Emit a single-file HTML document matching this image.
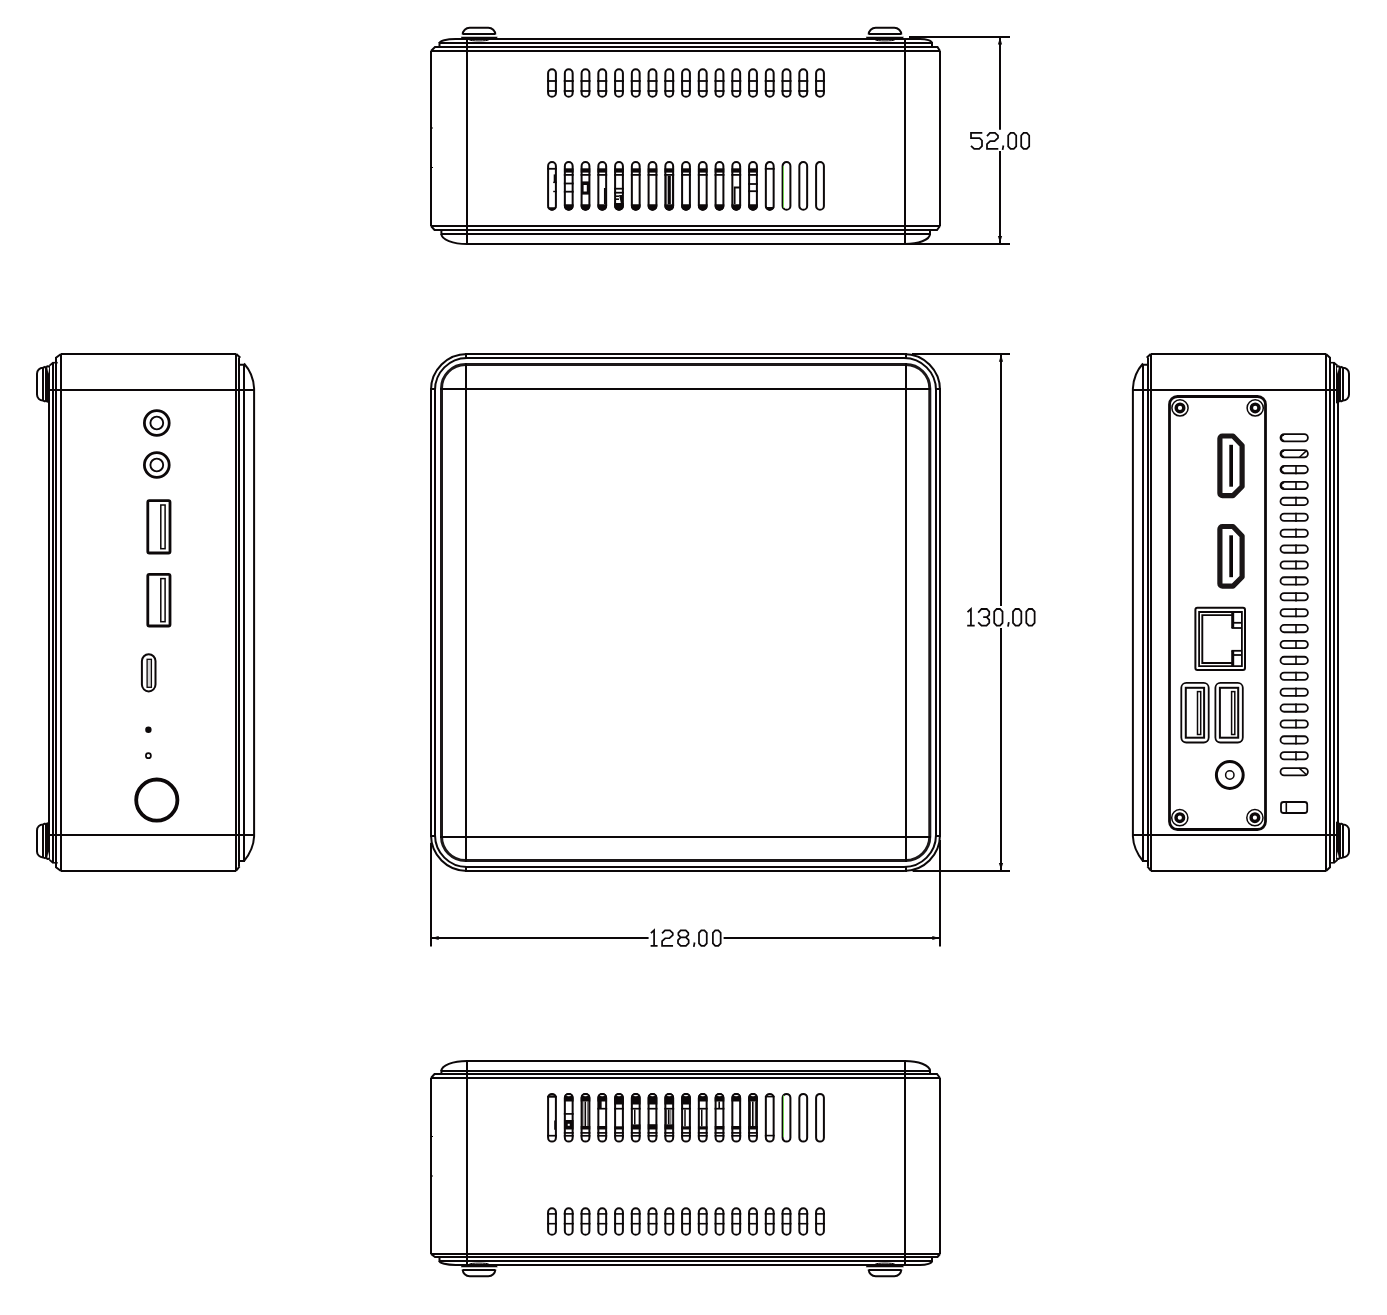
<!DOCTYPE html>
<html><head><meta charset="utf-8"><title>Mini PC dimensions</title>
<style>html,body{margin:0;padding:0;background:#fff;}body{width:1387px;height:1315px;overflow:hidden;font-family:"Liberation Sans",sans-serif;}svg{display:block;}</style>
</head><body>
<svg width="1387" height="1315" viewBox="0 0 1387 1315">
<rect width="1387" height="1315" fill="#fff"/>
<g fill="none" stroke="#0c0809" stroke-width="2" stroke-linecap="butt" stroke-linejoin="miter">
<g>
<line x1="431" y1="51" x2="431" y2="226"/>
<line x1="940" y1="51" x2="940" y2="226"/>
<line x1="467" y1="39" x2="467" y2="244"/>
<line x1="905" y1="39" x2="905" y2="244"/>
<path d="M431,51 H940"/>
<path d="M431,51 L435,47 H937.5 L940,51"/>
<path d="M439.5,47 V43 H932 V47"/>
<path d="M439.5,43 A16,4 0 0 1 455.5,39 H920 A12,4 0 0 1 932,43"/>
<path d="M431,226 H940"/>
<path d="M431,226 L434.5,230 H937 L940,226"/>
<path d="M441.4,230 V234 H930 V230"/>
<path d="M441.4,234 A25.6,10 0 0 0 467,244 H906"/>
<path d="M930,234 A25,10 0 0 1 904,244"/>
<line x1="431" y1="128" x2="433" y2="128" stroke-width="1.2"/>
<line x1="431" y1="167.5" x2="433" y2="167.5" stroke-width="1.2"/>
<path d="M462.7,34.6 A7,6.8 0 0 1 469.7,27.8 H488.3 A7,6.8 0 0 1 495.3,34.6"/>
<line x1="462.7" y1="33.9" x2="495.3" y2="33.9"/>
<path d="M460.8,36.8 H497.7 L496.2,39.5 H462.3 Z" fill="#0c0809" stroke="none"/>
<ellipse cx="479" cy="39.9" rx="9.5" ry="1.0" stroke-width="1"/>
<path d="M868.7,34.6 A7,6.8 0 0 1 875.7,27.8 H894.3 A7,6.8 0 0 1 901.3,34.6"/>
<line x1="868.7" y1="33.9" x2="901.3" y2="33.9"/>
<path d="M865.8,36.8 H903.8 L902.3,39.5 H867.3 Z" fill="#0c0809" stroke="none"/>
<ellipse cx="885" cy="39.9" rx="9.5" ry="1.0" stroke-width="1"/>
</g>
<path d="M548.1,73.1 A3.9,3.9 0 0 1 555.9,73.1 V92.9 A3.9,3.9 0 0 1 548.1,92.9 Z"/>
<line x1="547" y1="81" x2="557" y2="81" stroke-width="1.8"/>
<line x1="547" y1="91" x2="557" y2="91" stroke-width="1.8"/>
<path d="M564.85,73.1 A3.9,3.9 0 0 1 572.65,73.1 V92.9 A3.9,3.9 0 0 1 564.85,92.9 Z"/>
<line x1="563.75" y1="81" x2="573.75" y2="81" stroke-width="1.8"/>
<line x1="563.75" y1="91" x2="573.75" y2="91" stroke-width="1.8"/>
<path d="M581.6,73.1 A3.9,3.9 0 0 1 589.4,73.1 V92.9 A3.9,3.9 0 0 1 581.6,92.9 Z"/>
<line x1="580.5" y1="81" x2="590.5" y2="81" stroke-width="1.8"/>
<line x1="580.5" y1="91" x2="590.5" y2="91" stroke-width="1.8"/>
<path d="M598.35,73.1 A3.9,3.9 0 0 1 606.15,73.1 V92.9 A3.9,3.9 0 0 1 598.35,92.9 Z"/>
<line x1="597.25" y1="81" x2="607.25" y2="81" stroke-width="1.8"/>
<line x1="597.25" y1="91" x2="607.25" y2="91" stroke-width="1.8"/>
<path d="M615.1,73.1 A3.9,3.9 0 0 1 622.9,73.1 V92.9 A3.9,3.9 0 0 1 615.1,92.9 Z"/>
<line x1="614" y1="81" x2="624" y2="81" stroke-width="1.8"/>
<line x1="614" y1="91" x2="624" y2="91" stroke-width="1.8"/>
<path d="M631.85,73.1 A3.9,3.9 0 0 1 639.65,73.1 V92.9 A3.9,3.9 0 0 1 631.85,92.9 Z"/>
<line x1="630.75" y1="81" x2="640.75" y2="81" stroke-width="1.8"/>
<line x1="630.75" y1="91" x2="640.75" y2="91" stroke-width="1.8"/>
<path d="M648.6,73.1 A3.9,3.9 0 0 1 656.4,73.1 V92.9 A3.9,3.9 0 0 1 648.6,92.9 Z"/>
<line x1="647.5" y1="81" x2="657.5" y2="81" stroke-width="1.8"/>
<line x1="647.5" y1="91" x2="657.5" y2="91" stroke-width="1.8"/>
<path d="M665.35,73.1 A3.9,3.9 0 0 1 673.15,73.1 V92.9 A3.9,3.9 0 0 1 665.35,92.9 Z"/>
<line x1="664.25" y1="81" x2="674.25" y2="81" stroke-width="1.8"/>
<line x1="664.25" y1="91" x2="674.25" y2="91" stroke-width="1.8"/>
<path d="M682.1,73.1 A3.9,3.9 0 0 1 689.9,73.1 V92.9 A3.9,3.9 0 0 1 682.1,92.9 Z"/>
<line x1="681" y1="81" x2="691" y2="81" stroke-width="1.8"/>
<line x1="681" y1="91" x2="691" y2="91" stroke-width="1.8"/>
<path d="M698.85,73.1 A3.9,3.9 0 0 1 706.65,73.1 V92.9 A3.9,3.9 0 0 1 698.85,92.9 Z"/>
<line x1="697.75" y1="81" x2="707.75" y2="81" stroke-width="1.8"/>
<line x1="697.75" y1="91" x2="707.75" y2="91" stroke-width="1.8"/>
<path d="M715.6,73.1 A3.9,3.9 0 0 1 723.4,73.1 V92.9 A3.9,3.9 0 0 1 715.6,92.9 Z"/>
<line x1="714.5" y1="81" x2="724.5" y2="81" stroke-width="1.8"/>
<line x1="714.5" y1="91" x2="724.5" y2="91" stroke-width="1.8"/>
<path d="M732.35,73.1 A3.9,3.9 0 0 1 740.15,73.1 V92.9 A3.9,3.9 0 0 1 732.35,92.9 Z"/>
<line x1="731.25" y1="81" x2="741.25" y2="81" stroke-width="1.8"/>
<line x1="731.25" y1="91" x2="741.25" y2="91" stroke-width="1.8"/>
<path d="M749.1,73.1 A3.9,3.9 0 0 1 756.9,73.1 V92.9 A3.9,3.9 0 0 1 749.1,92.9 Z"/>
<line x1="748" y1="81" x2="758" y2="81" stroke-width="1.8"/>
<line x1="748" y1="91" x2="758" y2="91" stroke-width="1.8"/>
<path d="M765.85,73.1 A3.9,3.9 0 0 1 773.65,73.1 V92.9 A3.9,3.9 0 0 1 765.85,92.9 Z"/>
<line x1="764.75" y1="81" x2="774.75" y2="81" stroke-width="1.8"/>
<line x1="764.75" y1="91" x2="774.75" y2="91" stroke-width="1.8"/>
<path d="M782.6,73.1 A3.9,3.9 0 0 1 790.4,73.1 V92.9 A3.9,3.9 0 0 1 782.6,92.9 Z"/>
<line x1="781.5" y1="81" x2="791.5" y2="81" stroke-width="1.8"/>
<line x1="781.5" y1="91" x2="791.5" y2="91" stroke-width="1.8"/>
<path d="M799.35,73.1 A3.9,3.9 0 0 1 807.15,73.1 V92.9 A3.9,3.9 0 0 1 799.35,92.9 Z"/>
<line x1="798.25" y1="81" x2="808.25" y2="81" stroke-width="1.8"/>
<line x1="798.25" y1="91" x2="808.25" y2="91" stroke-width="1.8"/>
<path d="M816.1,73.1 A3.9,3.9 0 0 1 823.9,73.1 V92.9 A3.9,3.9 0 0 1 816.1,92.9 Z"/>
<line x1="815" y1="81" x2="825" y2="81" stroke-width="1.8"/>
<line x1="815" y1="91" x2="825" y2="91" stroke-width="1.8"/>
<path d="M548.1,166 A3.9,3.9 0 0 1 555.9,166 V205.9 A3.9,3.9 0 0 1 548.1,205.9 Z"/>
<line x1="547.1" y1="168.8" x2="556.9" y2="168.8" stroke-width="1.8"/>
<path d="M547.2,207.2 H556.8 V205.9 A4.8,4.8 0 0 1 547.2,205.9 Z" fill="#0c0809" stroke="none"/>
<line x1="554.6" y1="174.4" x2="554.6" y2="182.4" stroke-width="1.8"/>
<line x1="553.2" y1="182.4" x2="556.8" y2="182.4" stroke-width="1.4"/>
<line x1="553.2" y1="191.5" x2="556.8" y2="191.5" stroke-width="1.4"/>
<path d="M564.85,166 A3.9,3.9 0 0 1 572.65,166 V205.9 A3.9,3.9 0 0 1 564.85,205.9 Z"/>
<path d="M563.95,168.3 H573.55 V172.6 H563.95 Z" fill="#0c0809" stroke="none"/>
<line x1="563.85" y1="174.9" x2="573.65" y2="174.9" stroke-width="1.8"/>
<path d="M563.95,204.2 H573.55 V205.9 A4.8,4.8 0 0 1 563.95,205.9 Z" fill="#0c0809" stroke="none"/>
<line x1="563.85" y1="183.5" x2="573.65" y2="183.5" stroke-width="1.8"/>
<line x1="563.85" y1="191.7" x2="573.65" y2="191.7" stroke-width="1.8"/>
<path d="M581.6,166 A3.9,3.9 0 0 1 589.4,166 V205.9 A3.9,3.9 0 0 1 581.6,205.9 Z"/>
<path d="M580.7,168.3 H590.3 V172.6 H580.7 Z" fill="#0c0809" stroke="none"/>
<line x1="580.6" y1="174.9" x2="590.4" y2="174.9" stroke-width="1.8"/>
<path d="M580.7,204.2 H590.3 V205.9 A4.8,4.8 0 0 1 580.7,205.9 Z" fill="#0c0809" stroke="none"/>
<path d="M581.6,181.4 H589.4 V194.6 H581.6 Z" fill="#0c0809" stroke="none"/>
<rect x="583.6" y="185" width="3.2" height="6.5" fill="#fff" stroke="none"/>
<path d="M598.35,166 A3.9,3.9 0 0 1 606.15,166 V205.9 A3.9,3.9 0 0 1 598.35,205.9 Z"/>
<path d="M597.45,168.3 H607.05 V172.6 H597.45 Z" fill="#0c0809" stroke="none"/>
<line x1="597.35" y1="174.9" x2="607.15" y2="174.9" stroke-width="1.8"/>
<path d="M597.45,204.2 H607.05 V205.9 A4.8,4.8 0 0 1 597.45,205.9 Z" fill="#0c0809" stroke="none"/>
<line x1="604.85" y1="188" x2="604.85" y2="204" stroke-width="1.8"/>
<path d="M615.1,166 A3.9,3.9 0 0 1 622.9,166 V205.9 A3.9,3.9 0 0 1 615.1,205.9 Z"/>
<path d="M614.2,168.3 H623.8 V172.6 H614.2 Z" fill="#0c0809" stroke="none"/>
<line x1="614.1" y1="174.9" x2="623.9" y2="174.9" stroke-width="1.8"/>
<path d="M614.2,203 H623.8 V205.9 A4.8,4.8 0 0 1 614.2,205.9 Z" fill="#0c0809" stroke="none"/>
<line x1="614.1" y1="188.7" x2="623.9" y2="188.7" stroke-width="1.8"/>
<line x1="614.1" y1="192.7" x2="623.9" y2="192.7" stroke-width="1.8"/>
<line x1="615.1" y1="196.2" x2="619" y2="196.2" stroke-width="1.6"/>
<line x1="615.1" y1="199.2" x2="619" y2="199.2" stroke-width="1.6"/>
<path d="M619,195 L622.9,195 V203 H620.8 Z" fill="#0c0809" stroke="none"/>
<path d="M631.85,166 A3.9,3.9 0 0 1 639.65,166 V205.9 A3.9,3.9 0 0 1 631.85,205.9 Z"/>
<path d="M630.95,168.3 H640.55 V172.6 H630.95 Z" fill="#0c0809" stroke="none"/>
<line x1="630.85" y1="174.9" x2="640.65" y2="174.9" stroke-width="1.8"/>
<path d="M630.95,204.2 H640.55 V205.9 A4.8,4.8 0 0 1 630.95,205.9 Z" fill="#0c0809" stroke="none"/>
<path d="M648.6,166 A3.9,3.9 0 0 1 656.4,166 V205.9 A3.9,3.9 0 0 1 648.6,205.9 Z"/>
<path d="M647.7,168.3 H657.3 V172.6 H647.7 Z" fill="#0c0809" stroke="none"/>
<line x1="647.6" y1="174.9" x2="657.4" y2="174.9" stroke-width="1.8"/>
<path d="M647.7,204.2 H657.3 V205.9 A4.8,4.8 0 0 1 647.7,205.9 Z" fill="#0c0809" stroke="none"/>
<path d="M665.35,166 A3.9,3.9 0 0 1 673.15,166 V205.9 A3.9,3.9 0 0 1 665.35,205.9 Z"/>
<path d="M664.45,168.3 H674.05 V172.6 H664.45 Z" fill="#0c0809" stroke="none"/>
<line x1="664.35" y1="174.9" x2="674.15" y2="174.9" stroke-width="1.8"/>
<path d="M664.45,204.2 H674.05 V205.9 A4.8,4.8 0 0 1 664.45,205.9 Z" fill="#0c0809" stroke="none"/>
<path d="M667.65,175.8 H670.85 V204.2 H667.65 Z" fill="#0c0809" stroke="none"/>
<line x1="666.05" y1="175.8" x2="666.05" y2="204.2" stroke-width="0.9"/>
<line x1="672.45" y1="175.8" x2="672.45" y2="204.2" stroke-width="0.9"/>
<path d="M682.1,166 A3.9,3.9 0 0 1 689.9,166 V205.9 A3.9,3.9 0 0 1 682.1,205.9 Z"/>
<path d="M681.2,168.3 H690.8 V172.6 H681.2 Z" fill="#0c0809" stroke="none"/>
<line x1="681.1" y1="174.9" x2="690.9" y2="174.9" stroke-width="1.8"/>
<path d="M681.2,204.2 H690.8 V205.9 A4.8,4.8 0 0 1 681.2,205.9 Z" fill="#0c0809" stroke="none"/>
<path d="M698.85,166 A3.9,3.9 0 0 1 706.65,166 V205.9 A3.9,3.9 0 0 1 698.85,205.9 Z"/>
<path d="M697.95,168.3 H707.55 V172.6 H697.95 Z" fill="#0c0809" stroke="none"/>
<line x1="697.85" y1="174.9" x2="707.65" y2="174.9" stroke-width="1.8"/>
<path d="M697.95,204.2 H707.55 V205.9 A4.8,4.8 0 0 1 697.95,205.9 Z" fill="#0c0809" stroke="none"/>
<path d="M715.6,166 A3.9,3.9 0 0 1 723.4,166 V205.9 A3.9,3.9 0 0 1 715.6,205.9 Z"/>
<path d="M714.7,168.3 H724.3 V172.6 H714.7 Z" fill="#0c0809" stroke="none"/>
<line x1="714.6" y1="174.9" x2="724.4" y2="174.9" stroke-width="1.8"/>
<path d="M714.7,204.2 H724.3 V205.9 A4.8,4.8 0 0 1 714.7,205.9 Z" fill="#0c0809" stroke="none"/>
<path d="M732.35,166 A3.9,3.9 0 0 1 740.15,166 V205.9 A3.9,3.9 0 0 1 732.35,205.9 Z"/>
<path d="M731.45,168.3 H741.05 V172.6 H731.45 Z" fill="#0c0809" stroke="none"/>
<line x1="731.35" y1="174.9" x2="741.15" y2="174.9" stroke-width="1.8"/>
<path d="M731.45,204.2 H741.05 V205.9 A4.8,4.8 0 0 1 731.45,205.9 Z" fill="#0c0809" stroke="none"/>
<path d="M734.65,204 V187.5 H740.15" stroke-width="1.8"/>
<path d="M749.1,166 A3.9,3.9 0 0 1 756.9,166 V205.9 A3.9,3.9 0 0 1 749.1,205.9 Z"/>
<path d="M748.2,168.3 H757.8 V172.6 H748.2 Z" fill="#0c0809" stroke="none"/>
<line x1="748.1" y1="174.9" x2="757.9" y2="174.9" stroke-width="1.8"/>
<path d="M748.2,204.2 H757.8 V205.9 A4.8,4.8 0 0 1 748.2,205.9 Z" fill="#0c0809" stroke="none"/>
<line x1="748.1" y1="184" x2="757.9" y2="184" stroke-width="1.8"/>
<line x1="748.1" y1="191.2" x2="757.9" y2="191.2" stroke-width="1.8"/>
<path d="M765.85,166 A3.9,3.9 0 0 1 773.65,166 V205.9 A3.9,3.9 0 0 1 765.85,205.9 Z"/>
<line x1="764.85" y1="168.8" x2="774.65" y2="168.8" stroke-width="1.8"/>
<path d="M764.95,207 H774.55 V205.9 A4.8,4.8 0 0 1 764.95,205.9 Z" fill="#0c0809" stroke="none"/>
<path d="M782.6,166 A3.9,3.9 0 0 1 790.4,166 V205.9 A3.9,3.9 0 0 1 782.6,205.9 Z"/>
<path d="M799.35,166 A3.9,3.9 0 0 1 807.15,166 V205.9 A3.9,3.9 0 0 1 799.35,205.9 Z"/>
<path d="M816.1,166 A3.9,3.9 0 0 1 823.9,166 V205.9 A3.9,3.9 0 0 1 816.1,205.9 Z"/>
<g transform="translate(0,1304) scale(1,-1)">
<g>
<line x1="431" y1="50" x2="431" y2="226"/>
<line x1="940" y1="50" x2="940" y2="226"/>
<line x1="467" y1="39" x2="467" y2="243"/>
<line x1="905" y1="39" x2="905" y2="243"/>
<path d="M431,50 H940"/>
<path d="M431,50 L435,47 H937.5 L940,50"/>
<path d="M439.5,47 V43 H932 V47"/>
<path d="M439.5,43 A16,4 0 0 1 455.5,39 H920 A12,4 0 0 1 932,43"/>
<path d="M431,226 H940"/>
<path d="M431,226 L434.5,230 H937 L940,226"/>
<path d="M441.4,230 V233 H930 V230"/>
<path d="M441.4,233 A25.6,10 0 0 0 467,243 H906"/>
<path d="M930,233 A25,10 0 0 1 904,243"/>
<line x1="431" y1="128" x2="433" y2="128" stroke-width="1.2"/>
<line x1="431" y1="167.5" x2="433" y2="167.5" stroke-width="1.2"/>
<path d="M462.7,34.6 A7,6.8 0 0 1 469.7,27.8 H488.3 A7,6.8 0 0 1 495.3,34.6"/>
<line x1="462.7" y1="33.9" x2="495.3" y2="33.9"/>
<path d="M460.8,36.8 H497.7 L496.2,39.5 H462.3 Z" fill="#0c0809" stroke="none"/>
<ellipse cx="479" cy="39.9" rx="9.5" ry="1.0" stroke-width="1"/>
<path d="M868.7,34.6 A7,6.8 0 0 1 875.7,27.8 H894.3 A7,6.8 0 0 1 901.3,34.6"/>
<line x1="868.7" y1="33.9" x2="901.3" y2="33.9"/>
<path d="M865.8,36.8 H903.8 L902.3,39.5 H867.3 Z" fill="#0c0809" stroke="none"/>
<ellipse cx="885" cy="39.9" rx="9.5" ry="1.0" stroke-width="1"/>
</g>
</g>
<path d="M548.1,1097.8 A3.9,3.9 0 0 1 555.9,1097.8 V1137.7 A3.9,3.9 0 0 1 548.1,1137.7 Z"/>
<ellipse cx="552" cy="1095.4" rx="2.4" ry="0.7" stroke-width="1"/>
<line x1="547.1" y1="1096.8" x2="556.9" y2="1096.8" stroke-width="1.8"/>
<line x1="555" y1="1120.5" x2="555" y2="1129.8" stroke-width="1.6"/>
<line x1="547.1" y1="1135.7" x2="556.9" y2="1135.7" stroke-width="1.7"/>
<path d="M564.85,1097.8 A3.9,3.9 0 0 1 572.65,1097.8 V1137.7 A3.9,3.9 0 0 1 564.85,1137.7 Z"/>
<path d="M563.95,1101.5 H573.55 V1097.8 A4.8,4.8 0 0 0 563.95,1097.8 Z" fill="#0c0809" stroke="none"/>
<ellipse cx="568.75" cy="1095.6" rx="2.4" ry="0.7" fill="#fff" stroke="none"/>
<path d="M563.95,1120 H573.55 V1129.5 H563.95 Z" fill="#0c0809" stroke="none"/>
<line x1="563.85" y1="1132.9" x2="573.65" y2="1132.9" stroke-width="1.7"/>
<line x1="563.85" y1="1135.8" x2="573.65" y2="1135.8" stroke-width="1.7"/>
<line x1="563.85" y1="1113.9" x2="573.65" y2="1113.9" stroke-width="1.7"/>
<rect x="567.75" y="1123.8" width="2" height="2" fill="#fff" stroke="none"/>
<path d="M581.6,1097.8 A3.9,3.9 0 0 1 589.4,1097.8 V1137.7 A3.9,3.9 0 0 1 581.6,1137.7 Z"/>
<path d="M580.7,1101.5 H590.3 V1097.8 A4.8,4.8 0 0 0 580.7,1097.8 Z" fill="#0c0809" stroke="none"/>
<ellipse cx="585.5" cy="1095.6" rx="2.4" ry="0.7" fill="#fff" stroke="none"/>
<path d="M580.7,1126 H590.3 V1129.5 H580.7 Z" fill="#0c0809" stroke="none"/>
<line x1="580.6" y1="1132.9" x2="590.4" y2="1132.9" stroke-width="1.7"/>
<line x1="580.6" y1="1135.8" x2="590.4" y2="1135.8" stroke-width="1.7"/>
<line x1="585.3" y1="1101.5" x2="585.3" y2="1126" stroke-width="1.6"/>
<line x1="582.9" y1="1101.5" x2="582.9" y2="1126" stroke-width="0.9"/>
<line x1="587.9" y1="1101.5" x2="587.9" y2="1126" stroke-width="0.9"/>
<path d="M598.35,1097.8 A3.9,3.9 0 0 1 606.15,1097.8 V1137.7 A3.9,3.9 0 0 1 598.35,1137.7 Z"/>
<path d="M597.45,1101.5 H607.05 V1097.8 A4.8,4.8 0 0 0 597.45,1097.8 Z" fill="#0c0809" stroke="none"/>
<ellipse cx="602.25" cy="1095.6" rx="2.4" ry="0.7" fill="#fff" stroke="none"/>
<path d="M597.45,1126 H607.05 V1129.5 H597.45 Z" fill="#0c0809" stroke="none"/>
<line x1="597.35" y1="1132.9" x2="607.15" y2="1132.9" stroke-width="1.7"/>
<line x1="597.35" y1="1135.8" x2="607.15" y2="1135.8" stroke-width="1.7"/>
<line x1="597.35" y1="1108.7" x2="607.15" y2="1108.7" stroke-width="1.7"/>
<path d="M598.35,1101 H601.65 V1108.7 H598.35 Z" fill="#0c0809" stroke="none"/>
<path d="M615.1,1097.8 A3.9,3.9 0 0 1 622.9,1097.8 V1137.7 A3.9,3.9 0 0 1 615.1,1137.7 Z"/>
<path d="M614.2,1104.5 H623.8 V1097.8 A4.8,4.8 0 0 0 614.2,1097.8 Z" fill="#0c0809" stroke="none"/>
<ellipse cx="619" cy="1095.6" rx="2.4" ry="0.7" fill="#fff" stroke="none"/>
<path d="M614.2,1126.3 H623.8 V1129.5 H614.2 Z" fill="#0c0809" stroke="none"/>
<line x1="614.1" y1="1132.9" x2="623.9" y2="1132.9" stroke-width="1.7"/>
<line x1="614.1" y1="1135.8" x2="623.9" y2="1135.8" stroke-width="1.7"/>
<line x1="614.1" y1="1108.7" x2="623.9" y2="1108.7" stroke-width="1.7"/>
<path d="M631.85,1097.8 A3.9,3.9 0 0 1 639.65,1097.8 V1137.7 A3.9,3.9 0 0 1 631.85,1137.7 Z"/>
<path d="M630.95,1104.5 H640.55 V1097.8 A4.8,4.8 0 0 0 630.95,1097.8 Z" fill="#0c0809" stroke="none"/>
<ellipse cx="635.75" cy="1095.6" rx="2.4" ry="0.7" fill="#fff" stroke="none"/>
<path d="M630.95,1124.4 H640.55 V1129.5 H630.95 Z" fill="#0c0809" stroke="none"/>
<line x1="630.85" y1="1132.9" x2="640.65" y2="1132.9" stroke-width="1.7"/>
<line x1="630.85" y1="1135.8" x2="640.65" y2="1135.8" stroke-width="1.7"/>
<line x1="630.85" y1="1108.7" x2="640.65" y2="1108.7" stroke-width="1.7"/>
<line x1="634.75" y1="1109.5" x2="634.75" y2="1124.4" stroke-width="1.5"/>
<path d="M648.6,1097.8 A3.9,3.9 0 0 1 656.4,1097.8 V1137.7 A3.9,3.9 0 0 1 648.6,1137.7 Z"/>
<path d="M647.7,1104.5 H657.3 V1097.8 A4.8,4.8 0 0 0 647.7,1097.8 Z" fill="#0c0809" stroke="none"/>
<ellipse cx="652.5" cy="1095.6" rx="2.4" ry="0.7" fill="#fff" stroke="none"/>
<path d="M647.7,1124.2 H657.3 V1129.5 H647.7 Z" fill="#0c0809" stroke="none"/>
<line x1="647.6" y1="1132.9" x2="657.4" y2="1132.9" stroke-width="1.7"/>
<line x1="647.6" y1="1135.8" x2="657.4" y2="1135.8" stroke-width="1.7"/>
<line x1="647.6" y1="1108.7" x2="657.4" y2="1108.7" stroke-width="1.7"/>
<path d="M665.35,1097.8 A3.9,3.9 0 0 1 673.15,1097.8 V1137.7 A3.9,3.9 0 0 1 665.35,1137.7 Z"/>
<path d="M664.45,1104.5 H674.05 V1097.8 A4.8,4.8 0 0 0 664.45,1097.8 Z" fill="#0c0809" stroke="none"/>
<ellipse cx="669.25" cy="1095.6" rx="2.4" ry="0.7" fill="#fff" stroke="none"/>
<path d="M664.45,1124.3 H674.05 V1129.5 H664.45 Z" fill="#0c0809" stroke="none"/>
<line x1="664.35" y1="1132.9" x2="674.15" y2="1132.9" stroke-width="1.7"/>
<line x1="664.35" y1="1135.8" x2="674.15" y2="1135.8" stroke-width="1.7"/>
<line x1="664.35" y1="1108.7" x2="674.15" y2="1108.7" stroke-width="1.7"/>
<line x1="668.75" y1="1109.5" x2="668.75" y2="1124.3" stroke-width="1.6"/>
<line x1="670.85" y1="1109.5" x2="670.85" y2="1124.3" stroke-width="0.8"/>
<line x1="666.65" y1="1109.5" x2="666.65" y2="1124.3" stroke-width="0.8"/>
<path d="M682.1,1097.8 A3.9,3.9 0 0 1 689.9,1097.8 V1137.7 A3.9,3.9 0 0 1 682.1,1137.7 Z"/>
<path d="M681.2,1104.5 H690.8 V1097.8 A4.8,4.8 0 0 0 681.2,1097.8 Z" fill="#0c0809" stroke="none"/>
<ellipse cx="686" cy="1095.6" rx="2.4" ry="0.7" fill="#fff" stroke="none"/>
<path d="M681.2,1126.3 H690.8 V1129.5 H681.2 Z" fill="#0c0809" stroke="none"/>
<line x1="681.1" y1="1132.9" x2="690.9" y2="1132.9" stroke-width="1.7"/>
<line x1="681.1" y1="1135.8" x2="690.9" y2="1135.8" stroke-width="1.7"/>
<line x1="681.1" y1="1108.7" x2="690.9" y2="1108.7" stroke-width="1.7"/>
<line x1="685" y1="1109.5" x2="685" y2="1126.3" stroke-width="1.5"/>
<path d="M698.85,1097.8 A3.9,3.9 0 0 1 706.65,1097.8 V1137.7 A3.9,3.9 0 0 1 698.85,1137.7 Z"/>
<path d="M697.95,1101.5 H707.55 V1097.8 A4.8,4.8 0 0 0 697.95,1097.8 Z" fill="#0c0809" stroke="none"/>
<ellipse cx="702.75" cy="1095.6" rx="2.4" ry="0.7" fill="#fff" stroke="none"/>
<path d="M697.95,1126.3 H707.55 V1129.5 H697.95 Z" fill="#0c0809" stroke="none"/>
<line x1="697.85" y1="1132.9" x2="707.65" y2="1132.9" stroke-width="1.7"/>
<line x1="697.85" y1="1135.8" x2="707.65" y2="1135.8" stroke-width="1.7"/>
<line x1="697.85" y1="1108.7" x2="707.65" y2="1108.7" stroke-width="1.7"/>
<line x1="701.75" y1="1109.5" x2="701.75" y2="1126.3" stroke-width="1.5"/>
<path d="M715.6,1097.8 A3.9,3.9 0 0 1 723.4,1097.8 V1137.7 A3.9,3.9 0 0 1 715.6,1137.7 Z"/>
<path d="M714.7,1101.5 H724.3 V1097.8 A4.8,4.8 0 0 0 714.7,1097.8 Z" fill="#0c0809" stroke="none"/>
<ellipse cx="719.5" cy="1095.6" rx="2.4" ry="0.7" fill="#fff" stroke="none"/>
<path d="M714.7,1126 H724.3 V1129.5 H714.7 Z" fill="#0c0809" stroke="none"/>
<line x1="714.6" y1="1132.9" x2="724.4" y2="1132.9" stroke-width="1.7"/>
<line x1="714.6" y1="1135.8" x2="724.4" y2="1135.8" stroke-width="1.7"/>
<line x1="714.6" y1="1108.7" x2="724.4" y2="1108.7" stroke-width="1.7"/>
<line x1="719.2" y1="1101.5" x2="719.2" y2="1108.7" stroke-width="1.6"/>
<path d="M732.35,1097.8 A3.9,3.9 0 0 1 740.15,1097.8 V1137.7 A3.9,3.9 0 0 1 732.35,1137.7 Z"/>
<path d="M731.45,1101.5 H741.05 V1097.8 A4.8,4.8 0 0 0 731.45,1097.8 Z" fill="#0c0809" stroke="none"/>
<ellipse cx="736.25" cy="1095.6" rx="2.4" ry="0.7" fill="#fff" stroke="none"/>
<path d="M731.45,1126 H741.05 V1129.5 H731.45 Z" fill="#0c0809" stroke="none"/>
<line x1="731.35" y1="1132.9" x2="741.15" y2="1132.9" stroke-width="1.7"/>
<line x1="731.35" y1="1135.8" x2="741.15" y2="1135.8" stroke-width="1.7"/>
<path d="M749.1,1097.8 A3.9,3.9 0 0 1 756.9,1097.8 V1137.7 A3.9,3.9 0 0 1 749.1,1137.7 Z"/>
<path d="M748.2,1101.5 H757.8 V1097.8 A4.8,4.8 0 0 0 748.2,1097.8 Z" fill="#0c0809" stroke="none"/>
<ellipse cx="753" cy="1095.6" rx="2.4" ry="0.7" fill="#fff" stroke="none"/>
<path d="M748.2,1126 H757.8 V1129.5 H748.2 Z" fill="#0c0809" stroke="none"/>
<line x1="748.1" y1="1132.9" x2="757.9" y2="1132.9" stroke-width="1.7"/>
<line x1="748.1" y1="1135.8" x2="757.9" y2="1135.8" stroke-width="1.7"/>
<line x1="752.8" y1="1101.5" x2="752.8" y2="1126" stroke-width="1.6"/>
<line x1="750.4" y1="1101.5" x2="750.4" y2="1126" stroke-width="0.9"/>
<line x1="755.4" y1="1101.5" x2="755.4" y2="1126" stroke-width="0.9"/>
<path d="M765.85,1097.8 A3.9,3.9 0 0 1 773.65,1097.8 V1137.7 A3.9,3.9 0 0 1 765.85,1137.7 Z"/>
<line x1="764.85" y1="1096.6" x2="774.65" y2="1096.6" stroke-width="1.6"/>
<line x1="764.85" y1="1135.6" x2="774.65" y2="1135.6" stroke-width="1.6"/>
<path d="M782.6,1097.8 A3.9,3.9 0 0 1 790.4,1097.8 V1137.7 A3.9,3.9 0 0 1 782.6,1137.7 Z"/>
<path d="M799.35,1097.8 A3.9,3.9 0 0 1 807.15,1097.8 V1137.7 A3.9,3.9 0 0 1 799.35,1137.7 Z"/>
<path d="M816.1,1097.8 A3.9,3.9 0 0 1 823.9,1097.8 V1137.7 A3.9,3.9 0 0 1 816.1,1137.7 Z"/>
<path d="M548.1,1212.1 A3.9,3.9 0 0 1 555.9,1212.1 V1230.9 A3.9,3.9 0 0 1 548.1,1230.9 Z"/>
<line x1="547" y1="1213.9" x2="557" y2="1213.9" stroke-width="1.6"/>
<line x1="547" y1="1223.7" x2="557" y2="1223.7" stroke-width="1.6"/>
<path d="M564.85,1212.1 A3.9,3.9 0 0 1 572.65,1212.1 V1230.9 A3.9,3.9 0 0 1 564.85,1230.9 Z"/>
<line x1="563.75" y1="1213.9" x2="573.75" y2="1213.9" stroke-width="1.6"/>
<line x1="563.75" y1="1223.7" x2="573.75" y2="1223.7" stroke-width="1.6"/>
<path d="M581.6,1212.1 A3.9,3.9 0 0 1 589.4,1212.1 V1230.9 A3.9,3.9 0 0 1 581.6,1230.9 Z"/>
<line x1="580.5" y1="1213.9" x2="590.5" y2="1213.9" stroke-width="1.6"/>
<line x1="580.5" y1="1223.7" x2="590.5" y2="1223.7" stroke-width="1.6"/>
<path d="M598.35,1212.1 A3.9,3.9 0 0 1 606.15,1212.1 V1230.9 A3.9,3.9 0 0 1 598.35,1230.9 Z"/>
<line x1="597.25" y1="1213.9" x2="607.25" y2="1213.9" stroke-width="1.6"/>
<line x1="597.25" y1="1223.7" x2="607.25" y2="1223.7" stroke-width="1.6"/>
<path d="M615.1,1212.1 A3.9,3.9 0 0 1 622.9,1212.1 V1230.9 A3.9,3.9 0 0 1 615.1,1230.9 Z"/>
<line x1="614" y1="1213.9" x2="624" y2="1213.9" stroke-width="1.6"/>
<line x1="614" y1="1223.7" x2="624" y2="1223.7" stroke-width="1.6"/>
<path d="M631.85,1212.1 A3.9,3.9 0 0 1 639.65,1212.1 V1230.9 A3.9,3.9 0 0 1 631.85,1230.9 Z"/>
<line x1="630.75" y1="1213.9" x2="640.75" y2="1213.9" stroke-width="1.6"/>
<line x1="630.75" y1="1223.7" x2="640.75" y2="1223.7" stroke-width="1.6"/>
<path d="M648.6,1212.1 A3.9,3.9 0 0 1 656.4,1212.1 V1230.9 A3.9,3.9 0 0 1 648.6,1230.9 Z"/>
<line x1="647.5" y1="1213.9" x2="657.5" y2="1213.9" stroke-width="1.6"/>
<line x1="647.5" y1="1223.7" x2="657.5" y2="1223.7" stroke-width="1.6"/>
<path d="M665.35,1212.1 A3.9,3.9 0 0 1 673.15,1212.1 V1230.9 A3.9,3.9 0 0 1 665.35,1230.9 Z"/>
<line x1="664.25" y1="1213.9" x2="674.25" y2="1213.9" stroke-width="1.6"/>
<line x1="664.25" y1="1223.7" x2="674.25" y2="1223.7" stroke-width="1.6"/>
<path d="M682.1,1212.1 A3.9,3.9 0 0 1 689.9,1212.1 V1230.9 A3.9,3.9 0 0 1 682.1,1230.9 Z"/>
<line x1="681" y1="1213.9" x2="691" y2="1213.9" stroke-width="1.6"/>
<line x1="681" y1="1223.7" x2="691" y2="1223.7" stroke-width="1.6"/>
<path d="M698.85,1212.1 A3.9,3.9 0 0 1 706.65,1212.1 V1230.9 A3.9,3.9 0 0 1 698.85,1230.9 Z"/>
<line x1="697.75" y1="1213.9" x2="707.75" y2="1213.9" stroke-width="1.6"/>
<line x1="697.75" y1="1223.7" x2="707.75" y2="1223.7" stroke-width="1.6"/>
<path d="M715.6,1212.1 A3.9,3.9 0 0 1 723.4,1212.1 V1230.9 A3.9,3.9 0 0 1 715.6,1230.9 Z"/>
<line x1="714.5" y1="1213.9" x2="724.5" y2="1213.9" stroke-width="1.6"/>
<line x1="714.5" y1="1223.7" x2="724.5" y2="1223.7" stroke-width="1.6"/>
<path d="M732.35,1212.1 A3.9,3.9 0 0 1 740.15,1212.1 V1230.9 A3.9,3.9 0 0 1 732.35,1230.9 Z"/>
<line x1="731.25" y1="1213.9" x2="741.25" y2="1213.9" stroke-width="1.6"/>
<line x1="731.25" y1="1223.7" x2="741.25" y2="1223.7" stroke-width="1.6"/>
<path d="M749.1,1212.1 A3.9,3.9 0 0 1 756.9,1212.1 V1230.9 A3.9,3.9 0 0 1 749.1,1230.9 Z"/>
<line x1="748" y1="1213.9" x2="758" y2="1213.9" stroke-width="1.6"/>
<line x1="748" y1="1223.7" x2="758" y2="1223.7" stroke-width="1.6"/>
<path d="M765.85,1212.1 A3.9,3.9 0 0 1 773.65,1212.1 V1230.9 A3.9,3.9 0 0 1 765.85,1230.9 Z"/>
<line x1="764.75" y1="1213.9" x2="774.75" y2="1213.9" stroke-width="1.6"/>
<line x1="764.75" y1="1223.7" x2="774.75" y2="1223.7" stroke-width="1.6"/>
<path d="M782.6,1212.1 A3.9,3.9 0 0 1 790.4,1212.1 V1230.9 A3.9,3.9 0 0 1 782.6,1230.9 Z"/>
<line x1="781.5" y1="1213.9" x2="791.5" y2="1213.9" stroke-width="1.6"/>
<line x1="781.5" y1="1223.7" x2="791.5" y2="1223.7" stroke-width="1.6"/>
<path d="M799.35,1212.1 A3.9,3.9 0 0 1 807.15,1212.1 V1230.9 A3.9,3.9 0 0 1 799.35,1230.9 Z"/>
<line x1="798.25" y1="1213.9" x2="808.25" y2="1213.9" stroke-width="1.6"/>
<line x1="798.25" y1="1223.7" x2="808.25" y2="1223.7" stroke-width="1.6"/>
<path d="M816.1,1212.1 A3.9,3.9 0 0 1 823.9,1212.1 V1230.9 A3.9,3.9 0 0 1 816.1,1230.9 Z"/>
<line x1="815" y1="1213.9" x2="825" y2="1213.9" stroke-width="1.6"/>
<line x1="815" y1="1223.7" x2="825" y2="1223.7" stroke-width="1.6"/>
<g>
<path d="M61,354 H236.3"/>
<path d="M61,871 H236"/>
<line x1="61" y1="354" x2="61" y2="871"/>
<line x1="236" y1="354" x2="236" y2="871"/>
<path d="M61,354 L56,357.7 V867.3 L61,871"/>
<path d="M236.3,354 L240.3,357.8"/>
<line x1="239" y1="357.5" x2="239" y2="866.6"/>
<path d="M236,871 L239.6,866.4"/>
<line x1="53" y1="362.6" x2="53" y2="863"/>
<line x1="52.4" y1="362.7" x2="57.7" y2="362.7" stroke-width="1.6"/>
<line x1="52.4" y1="862.8" x2="57.7" y2="862.8" stroke-width="1.6"/>
<line x1="49" y1="401" x2="49" y2="824"/>
<line x1="49.5" y1="390" x2="254.1" y2="390"/>
<line x1="49" y1="835" x2="254.1" y2="835"/>
<path d="M239,364.8 H244 V861.1 H239"/>
<path d="M244,363.5 C249,369 253.6,377 254.1,388.5 V836.5 C253.6,848 249,855 244,861.1"/>
<path d="M45.5,366.8 L43,367.8 A6,6 0 0 0 37,373.8 V394.6 A6,6 0 0 0 43,400.6 L45.5,401.6"/>
<line x1="43" y1="367.8" x2="43" y2="400.6"/>
<path d="M45,366.6 L47.3,365.2 L50,365.4 V403.6 L45,401.8 Z" fill="#0c0809" stroke="none"/>
<path d="M47.2,367.4 L49.2,367.4 L48.4,373.8 Z" fill="#fff" stroke="none"/>
<line x1="53" y1="362.7" x2="49.5" y2="365.6" stroke-width="1.8"/>
<path d="M45.5,823.4 L43,824.4 A6,6 0 0 0 37,830.4 V851.4 A6,6 0 0 0 43,857.4 L45.5,858.4"/>
<line x1="43" y1="824.4" x2="43" y2="857.4"/>
<path d="M45,823.2 L50,821.4 V859.8 L47.3,860 L45,858.6 Z" fill="#0c0809" stroke="none"/>
<path d="M47.2,857.8 L49.2,857.8 L48.4,851.4 Z" fill="#fff" stroke="none"/>
<line x1="53" y1="862.8" x2="49.5" y2="859.9" stroke-width="1.8"/>
</g>
<circle cx="156.8" cy="423" r="12.4" stroke-width="2.8"/>
<circle cx="156.8" cy="423" r="6.4" stroke-width="1.9"/>
<circle cx="156.8" cy="465" r="12.4" stroke-width="2.8"/>
<circle cx="156.8" cy="465" r="6.4" stroke-width="1.9"/>
<rect x="147.8" y="500.7" width="22.2" height="52.3" rx="1.5" stroke-width="2.8"/>
<rect x="160.8" y="505" width="4.3" height="43.7" stroke-width="1.5"/>
<rect x="147.8" y="574.3" width="22.2" height="51.7" rx="1.5" stroke-width="2.8"/>
<rect x="160.8" y="578.6" width="4.3" height="43.1" stroke-width="1.5"/>
<rect x="141.9" y="654.3" width="13.6" height="37.1" rx="6.8" stroke-width="2.0"/>
<rect x="147.1" y="659.3" width="4.3" height="28" stroke-width="1.3" fill="#d6d6d6"/>
<circle cx="148.4" cy="729.7" r="3.2" stroke-width="0.001" fill="#0c0809"/>
<circle cx="148.4" cy="755.7" r="2.5" stroke-width="1.7"/>
<circle cx="156.8" cy="800.1" r="20.6" stroke-width="3.8"/>
<g transform="translate(1387,0) scale(-1,1)">
<g>
<path d="M61,354 H236.3"/>
<path d="M61,871 H236"/>
<line x1="61" y1="354" x2="61" y2="871"/>
<line x1="236" y1="354" x2="236" y2="871"/>
<path d="M61,354 L57,357.7 V867.3 L61,871"/>
<path d="M236.3,354 L240.3,357.8"/>
<line x1="239" y1="357.5" x2="239" y2="866.6"/>
<path d="M236,871 L239.6,866.4"/>
<line x1="53" y1="362.6" x2="53" y2="863"/>
<line x1="52.4" y1="362.7" x2="57.7" y2="362.7" stroke-width="1.6"/>
<line x1="52.4" y1="862.8" x2="57.7" y2="862.8" stroke-width="1.6"/>
<line x1="49" y1="401" x2="49" y2="824"/>
<line x1="49.5" y1="390" x2="254.1" y2="390"/>
<line x1="49" y1="835" x2="254.1" y2="835"/>
<path d="M239,364.8 H244 V861.1 H239"/>
<path d="M244,363.5 C249,369 253.6,377 254.1,388.5 V836.5 C253.6,848 249,855 244,861.1"/>
<path d="M46.5,366.8 L44,367.8 A6,6 0 0 0 38,373.8 V394.6 A6,6 0 0 0 44,400.6 L46.5,401.6"/>
<line x1="44" y1="367.8" x2="44" y2="400.6"/>
<path d="M46,366.6 L48.3,365.2 L51,365.4 V403.6 L46,401.8 Z" fill="#0c0809" stroke="none"/>
<path d="M48.2,367.4 L50.2,367.4 L49.4,373.8 Z" fill="#fff" stroke="none"/>
<line x1="53" y1="362.7" x2="49.5" y2="365.6" stroke-width="1.8"/>
<path d="M46.5,823.4 L44,824.4 A6,6 0 0 0 38,830.4 V851.4 A6,6 0 0 0 44,857.4 L46.5,858.4"/>
<line x1="44" y1="824.4" x2="44" y2="857.4"/>
<path d="M46,823.2 L51,821.4 V859.8 L48.3,860 L46,858.6 Z" fill="#0c0809" stroke="none"/>
<path d="M48.2,857.8 L50.2,857.8 L49.4,851.4 Z" fill="#fff" stroke="none"/>
<line x1="53" y1="862.8" x2="49.5" y2="859.9" stroke-width="1.8"/>
</g>
</g>
<rect x="1169.5" y="396.5" width="96" height="433" rx="8" stroke-width="2.8"/>
<circle cx="1180" cy="407.9" r="8.1" stroke-width="1.5"/>
<circle cx="1180" cy="407.9" r="3.8" stroke-width="3.4"/>
<circle cx="1255.2" cy="407.9" r="8.1" stroke-width="1.5"/>
<circle cx="1255.2" cy="407.9" r="3.8" stroke-width="3.4"/>
<circle cx="1179.8" cy="817.7" r="8.1" stroke-width="1.5"/>
<circle cx="1179.8" cy="817.7" r="3.8" stroke-width="3.4"/>
<circle cx="1254.9" cy="817.7" r="8.1" stroke-width="1.5"/>
<circle cx="1254.9" cy="817.7" r="3.8" stroke-width="3.4"/>
<path d="M1233,436 H1222.4 A2.5,2.5 0 0 0 1219.9,438.5 V493.2 A2.5,2.5 0 0 0 1222.4,495.7 H1233 L1242.1,486.5 V445.5 Z" stroke-width="5.2" stroke-linejoin="round" stroke="#1a1617"/>
<path d="M1229.3,444.8 H1233 V486.7 H1229.3 Z" fill="#0c0809" stroke="none"/>
<path d="M1233,526.5 H1222.4 A2.5,2.5 0 0 0 1219.9,529 V583.7 A2.5,2.5 0 0 0 1222.4,586.2 H1233 L1242.1,577 V536 Z" stroke-width="5.2" stroke-linejoin="round" stroke="#1a1617"/>
<path d="M1229.3,535.3 H1233 V577.2 H1229.3 Z" fill="#0c0809" stroke="none"/>
<rect x="1195.4" y="607.7" width="49.6" height="62.2" rx="2" stroke-width="2.0"/>
<path d="M1199.1,612 H1241.9 V666.2 H1199.1 Z" stroke-width="1.8"/>
<path d="M1231.9,615.1 H1202.3 V663 H1231.9" stroke-width="1.9"/>
<line x1="1232.7" y1="612" x2="1232.7" y2="628" stroke-width="3.0"/>
<line x1="1232.7" y1="650.5" x2="1232.7" y2="666" stroke-width="3.0"/>
<line x1="1234" y1="622.8" x2="1242" y2="622.8" stroke-width="1.8"/>
<line x1="1231.5" y1="628" x2="1242" y2="628" stroke-width="1.8"/>
<line x1="1231.5" y1="650.8" x2="1242" y2="650.8" stroke-width="1.8"/>
<line x1="1234" y1="655" x2="1242" y2="655" stroke-width="1.8"/>
<rect x="1181.3" y="682.8" width="27.4" height="59.7" rx="5" stroke-width="1.8"/>
<rect x="1185.8" y="687.8" width="18.3" height="49.9" stroke-width="2.0"/>
<rect x="1197.5" y="691.6" width="3.2" height="42.9" stroke-width="1.5"/>
<rect x="1215.4" y="682.8" width="27.4" height="59.7" rx="5" stroke-width="1.8"/>
<rect x="1219.9" y="687.8" width="18.3" height="49.9" stroke-width="2.0"/>
<rect x="1231.6" y="691.6" width="3.2" height="42.9" stroke-width="1.5"/>
<circle cx="1229.8" cy="775" r="13.4" stroke-width="3.0"/>
<circle cx="1229.8" cy="775" r="4.2" stroke-width="1.5"/>
<path d="M1284.15,434.15 H1304.25 A3.65,3.65 0 0 1 1304.25,441.45 H1284.15 A3.65,3.65 0 0 1 1284.15,434.15 Z" stroke-width="1.8"/>
<path d="M1284.15,434.85 A2.95,2.95 0 0 0 1284.15,440.75" stroke-width="1.8"/>
<path d="M1284.15,450.05 H1304.25 A3.65,3.65 0 0 1 1304.25,457.35 H1284.15 A3.65,3.65 0 0 1 1284.15,450.05 Z" stroke-width="1.8"/>
<path d="M1284.15,450.75 A2.95,2.95 0 0 0 1284.15,456.65" stroke-width="1.8"/>
<line x1="1299.5" y1="457.3" x2="1307" y2="450.1" stroke-width="1.5"/>
<path d="M1284.15,465.95 H1304.25 A3.65,3.65 0 0 1 1304.25,473.25 H1284.15 A3.65,3.65 0 0 1 1284.15,465.95 Z" stroke-width="1.8"/>
<line x1="1296" y1="465" x2="1296" y2="474.2" stroke-width="1.6"/>
<path d="M1284.15,466.65 A2.95,2.95 0 0 0 1284.15,472.55" stroke-width="1.8"/>
<path d="M1284.15,481.85 H1304.25 A3.65,3.65 0 0 1 1304.25,489.15 H1284.15 A3.65,3.65 0 0 1 1284.15,481.85 Z" stroke-width="1.8"/>
<line x1="1296" y1="480.9" x2="1296" y2="490.1" stroke-width="1.6"/>
<path d="M1284.15,482.55 A2.95,2.95 0 0 0 1284.15,488.45" stroke-width="1.8"/>
<path d="M1284.15,497.75 H1304.25 A3.65,3.65 0 0 1 1304.25,505.05 H1284.15 A3.65,3.65 0 0 1 1284.15,497.75 Z" stroke-width="1.8"/>
<line x1="1296" y1="496.8" x2="1296" y2="506" stroke-width="1.6"/>
<path d="M1284.15,513.65 H1304.25 A3.65,3.65 0 0 1 1304.25,520.95 H1284.15 A3.65,3.65 0 0 1 1284.15,513.65 Z" stroke-width="1.8"/>
<line x1="1296" y1="512.7" x2="1296" y2="521.9" stroke-width="1.6"/>
<path d="M1284.15,529.55 H1304.25 A3.65,3.65 0 0 1 1304.25,536.85 H1284.15 A3.65,3.65 0 0 1 1284.15,529.55 Z" stroke-width="1.8"/>
<line x1="1296" y1="528.6" x2="1296" y2="537.8" stroke-width="1.6"/>
<path d="M1284.15,545.45 H1304.25 A3.65,3.65 0 0 1 1304.25,552.75 H1284.15 A3.65,3.65 0 0 1 1284.15,545.45 Z" stroke-width="1.8"/>
<line x1="1296" y1="544.5" x2="1296" y2="553.7" stroke-width="1.6"/>
<path d="M1284.15,561.35 H1304.25 A3.65,3.65 0 0 1 1304.25,568.65 H1284.15 A3.65,3.65 0 0 1 1284.15,561.35 Z" stroke-width="1.8"/>
<line x1="1296" y1="560.4" x2="1296" y2="569.6" stroke-width="1.6"/>
<path d="M1284.15,577.25 H1304.25 A3.65,3.65 0 0 1 1304.25,584.55 H1284.15 A3.65,3.65 0 0 1 1284.15,577.25 Z" stroke-width="1.8"/>
<line x1="1296" y1="576.3" x2="1296" y2="585.5" stroke-width="1.6"/>
<path d="M1284.15,593.15 H1304.25 A3.65,3.65 0 0 1 1304.25,600.45 H1284.15 A3.65,3.65 0 0 1 1284.15,593.15 Z" stroke-width="1.8"/>
<line x1="1296" y1="592.2" x2="1296" y2="601.4" stroke-width="1.6"/>
<path d="M1284.15,609.05 H1304.25 A3.65,3.65 0 0 1 1304.25,616.35 H1284.15 A3.65,3.65 0 0 1 1284.15,609.05 Z" stroke-width="1.8"/>
<line x1="1296" y1="608.1" x2="1296" y2="617.3" stroke-width="1.6"/>
<path d="M1284.15,624.95 H1304.25 A3.65,3.65 0 0 1 1304.25,632.25 H1284.15 A3.65,3.65 0 0 1 1284.15,624.95 Z" stroke-width="1.8"/>
<line x1="1296" y1="624" x2="1296" y2="633.2" stroke-width="1.6"/>
<path d="M1284.15,640.85 H1304.25 A3.65,3.65 0 0 1 1304.25,648.15 H1284.15 A3.65,3.65 0 0 1 1284.15,640.85 Z" stroke-width="1.8"/>
<line x1="1296" y1="639.9" x2="1296" y2="649.1" stroke-width="1.6"/>
<path d="M1284.15,656.75 H1304.25 A3.65,3.65 0 0 1 1304.25,664.05 H1284.15 A3.65,3.65 0 0 1 1284.15,656.75 Z" stroke-width="1.8"/>
<line x1="1296" y1="655.8" x2="1296" y2="665" stroke-width="1.6"/>
<path d="M1284.15,672.65 H1304.25 A3.65,3.65 0 0 1 1304.25,679.95 H1284.15 A3.65,3.65 0 0 1 1284.15,672.65 Z" stroke-width="1.8"/>
<line x1="1296" y1="671.7" x2="1296" y2="680.9" stroke-width="1.6"/>
<path d="M1284.15,688.55 H1304.25 A3.65,3.65 0 0 1 1304.25,695.85 H1284.15 A3.65,3.65 0 0 1 1284.15,688.55 Z" stroke-width="1.8"/>
<line x1="1296" y1="687.6" x2="1296" y2="696.8" stroke-width="1.6"/>
<path d="M1284.15,704.45 H1304.25 A3.65,3.65 0 0 1 1304.25,711.75 H1284.15 A3.65,3.65 0 0 1 1284.15,704.45 Z" stroke-width="1.8"/>
<line x1="1296" y1="703.5" x2="1296" y2="712.7" stroke-width="1.6"/>
<path d="M1284.15,720.35 H1304.25 A3.65,3.65 0 0 1 1304.25,727.65 H1284.15 A3.65,3.65 0 0 1 1284.15,720.35 Z" stroke-width="1.8"/>
<line x1="1296" y1="719.4" x2="1296" y2="728.6" stroke-width="1.6"/>
<path d="M1284.15,736.25 H1304.25 A3.65,3.65 0 0 1 1304.25,743.55 H1284.15 A3.65,3.65 0 0 1 1284.15,736.25 Z" stroke-width="1.8"/>
<line x1="1296" y1="735.3" x2="1296" y2="744.5" stroke-width="1.6"/>
<path d="M1284.15,752.15 H1304.25 A3.65,3.65 0 0 1 1304.25,759.45 H1284.15 A3.65,3.65 0 0 1 1284.15,752.15 Z" stroke-width="1.8"/>
<line x1="1296" y1="751.2" x2="1296" y2="760.4" stroke-width="1.6"/>
<path d="M1284.15,768.05 H1304.25 A3.65,3.65 0 0 1 1304.25,775.35 H1284.15 A3.65,3.65 0 0 1 1284.15,768.05 Z" stroke-width="1.8"/>
<line x1="1299.2" y1="768.1" x2="1307" y2="775.3" stroke-width="1.5"/>
<rect x="1281" y="802" width="26.2" height="11" rx="2.5" stroke-width="1.8"/>
<line x1="1286.3" y1="801" x2="1286.3" y2="814" stroke-width="1.6"/>
<rect x="431" y="354" width="509" height="517" rx="36"/>
<rect x="435" y="358" width="501" height="509" rx="32"/>
<rect x="441.5" y="364.5" width="488.3" height="496" rx="24" stroke-width="3" stroke="#1c1819"/>
<line x1="466" y1="353" x2="466" y2="359"/>
<line x1="466" y1="363" x2="466" y2="862"/>
<line x1="466" y1="866" x2="466" y2="872"/>
<line x1="906" y1="353" x2="906" y2="359"/>
<line x1="906" y1="363" x2="906" y2="862"/>
<line x1="906" y1="866" x2="906" y2="872"/>
<line x1="430" y1="389" x2="436" y2="389"/>
<line x1="440" y1="389" x2="931" y2="389"/>
<line x1="935" y1="389" x2="941" y2="389"/>
<line x1="430" y1="836" x2="436" y2="836"/>
<line x1="440" y1="837" x2="931" y2="837"/>
<line x1="935" y1="836" x2="941" y2="836"/>
<line x1="909" y1="37" x2="1010" y2="37"/>
<line x1="905" y1="244" x2="1010" y2="244"/>
<line x1="1000" y1="37" x2="1000" y2="129.8"/>
<line x1="1000" y1="151" x2="1000" y2="243.7"/>
<path d="M1000,37.6 L1002.1,44.6 L997.9,44.6 Z" fill="#0c0809" stroke="none"/>
<path d="M1000,243.1 L997.9,236.1 L1002.1,236.1 Z" fill="#0c0809" stroke="none"/>
<line x1="912" y1="354" x2="1010" y2="354"/>
<line x1="912.6" y1="871" x2="1010" y2="871"/>
<line x1="1001" y1="354" x2="1001" y2="606"/>
<line x1="1001" y1="628" x2="1001" y2="871"/>
<path d="M1001,354.7 L1003.1,361.7 L998.9,361.7 Z" fill="#0c0809" stroke="none"/>
<path d="M1001,869.9 L998.9,862.9 L1003.1,862.9 Z" fill="#0c0809" stroke="none"/>
<line x1="431" y1="842.8" x2="431" y2="946.6"/>
<line x1="940" y1="840" x2="940" y2="946.6"/>
<line x1="431" y1="938" x2="648.6" y2="938"/>
<line x1="723.6" y1="938" x2="940" y2="938"/>
<path d="M431.7,938 L438.7,935.9 L438.7,940.1 Z" fill="#0c0809" stroke="none"/>
<path d="M939.3,938 L932.3,940.1 L932.3,935.9 Z" fill="#0c0809" stroke="none"/>
<g role="img" aria-label="52,00">
<path d="M11.3,0 H0 V5.2 H8.6 L11,7.6 V13.2 L8.2,16 H3.2 L0,12.9" transform="translate(971,132.9) scale(1)" stroke-width="1.75" stroke-linejoin="miter"/>
<path d="M0,3.2 L3,0 H8 L11,2.8 V5 L7.6,8.2 H3.2 L0,11.2 V16 H11.3" transform="translate(987,132.9) scale(1)" stroke-width="1.75" stroke-linejoin="miter"/>
<path d="M0.8,12.6 L0,17" transform="translate(1002.6,132.9) scale(1)" stroke-width="1.75" stroke-linejoin="miter"/>
<path d="M2.4,0 H5.6 L8,2.6 V13.4 L5.6,16 H2.4 L0,13.4 V2.6 Z" transform="translate(1008.2,132.9) scale(1)" stroke-width="1.75" stroke-linejoin="miter"/>
<path d="M2.4,0 H5.6 L8,2.6 V13.4 L5.6,16 H2.4 L0,13.4 V2.6 Z" transform="translate(1021.2,132.9) scale(1)" stroke-width="1.75" stroke-linejoin="miter"/>
</g>
<g role="img" aria-label="130,00">
<path d="M0.3,3 L3.6,0 V16 M0,16 H7.2" transform="translate(967.2,609) scale(1.04)" stroke-width="1.69" stroke-linejoin="miter"/>
<path d="M0,3.4 L3.2,0 H8.2 L10.6,2.6 V5.6 L8.2,7.9 H4.8 M8.2,7.9 L10.6,10.4 V13.4 L8,16 H3.2 L0,12.8" transform="translate(978.2,609) scale(1.04)" stroke-width="1.69" stroke-linejoin="miter"/>
<path d="M2.4,0 H5.6 L8,2.6 V13.4 L5.6,16 H2.4 L0,13.4 V2.6 Z" transform="translate(994.2,609) scale(1.04)" stroke-width="1.69" stroke-linejoin="miter"/>
<path d="M0.8,12.6 L0,17" transform="translate(1008,609) scale(1.04)" stroke-width="1.69" stroke-linejoin="miter"/>
<path d="M2.4,0 H5.6 L8,2.6 V13.4 L5.6,16 H2.4 L0,13.4 V2.6 Z" transform="translate(1013,609) scale(1.04)" stroke-width="1.69" stroke-linejoin="miter"/>
<path d="M2.4,0 H5.6 L8,2.6 V13.4 L5.6,16 H2.4 L0,13.4 V2.6 Z" transform="translate(1026.3,609) scale(1.04)" stroke-width="1.69" stroke-linejoin="miter"/>
</g>
<g role="img" aria-label="128,00">
<path d="M0.3,3 L3.6,0 V16 M0,16 H7.2" transform="translate(650.6,930.3) scale(0.97)" stroke-width="1.79" stroke-linejoin="miter"/>
<path d="M0,3.2 L3,0 H8 L11,2.8 V5 L7.6,8.2 H3.2 L0,11.2 V16 H11.3" transform="translate(662.1,930.3) scale(0.97)" stroke-width="1.79" stroke-linejoin="miter"/>
<path d="M2.8,0 H8 L10.6,2.6 V4.8 L8,7.4 H2.8 L0.4,4.8 V2.6 Z M2.8,7.4 L0,10.2 V13.2 L2.8,16 H8.2 L11,13.2 V10.2 L8.2,7.4" transform="translate(678,930.3) scale(0.97)" stroke-width="1.79" stroke-linejoin="miter"/>
<path d="M0.8,12.6 L0,17" transform="translate(693.8,930.3) scale(0.97)" stroke-width="1.79" stroke-linejoin="miter"/>
<path d="M2.4,0 H5.6 L8,2.6 V13.4 L5.6,16 H2.4 L0,13.4 V2.6 Z" transform="translate(699,930.3) scale(0.97)" stroke-width="1.79" stroke-linejoin="miter"/>
<path d="M2.4,0 H5.6 L8,2.6 V13.4 L5.6,16 H2.4 L0,13.4 V2.6 Z" transform="translate(712.9,930.3) scale(0.97)" stroke-width="1.79" stroke-linejoin="miter"/>
</g>
<line x1="783.5" y1="166" x2="783.5" y2="207.8" stroke="#72d452" stroke-width="1"/>
<line x1="783.5" y1="1095.5" x2="783.5" y2="1137" stroke="#72d452" stroke-width="1"/>
</g>
</svg>
</body></html>
